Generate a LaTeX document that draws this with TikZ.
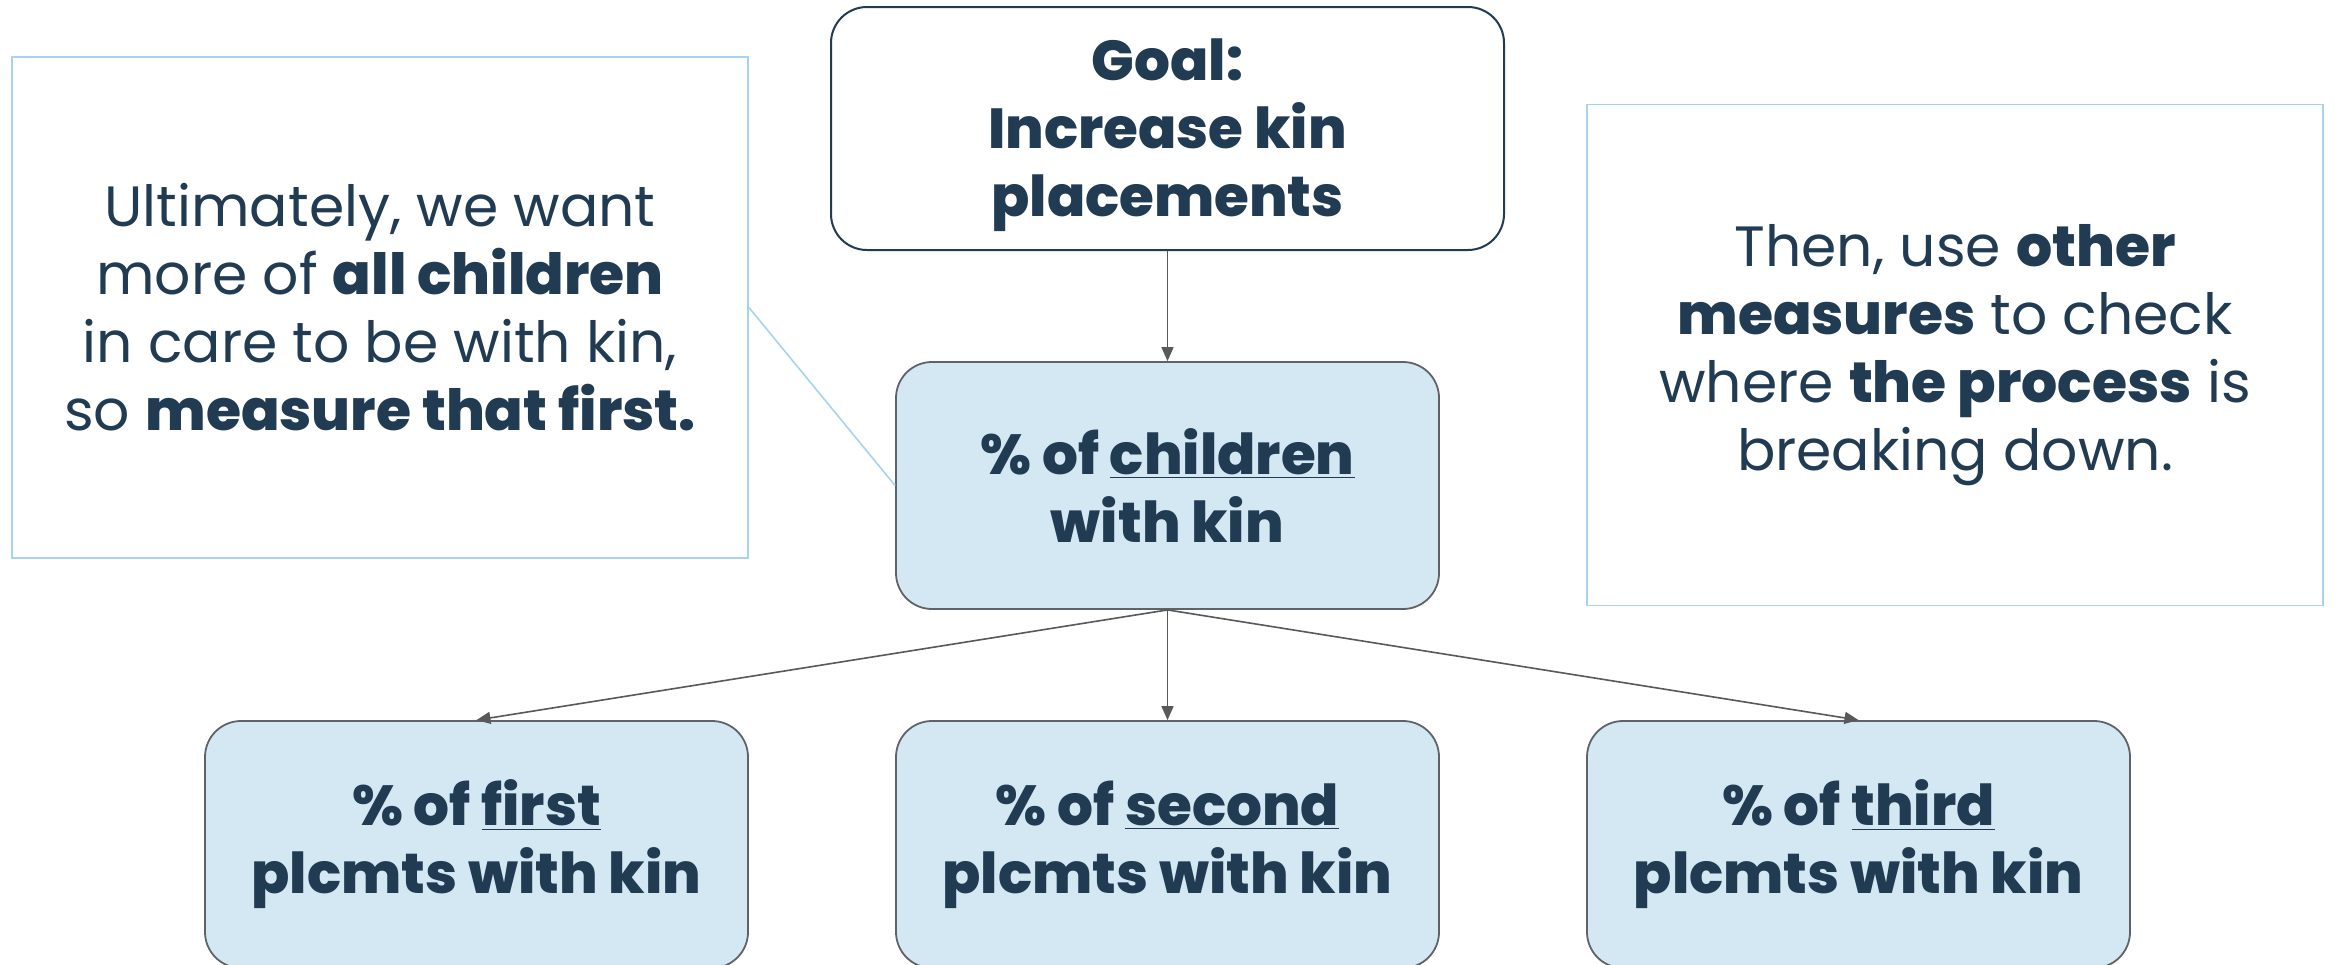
\documentclass[tikz,border=0pt]{standalone}
\usepackage{fontspec}
\setmainfont{Poppins}[BoldFont={* ExtraBold}]
\usetikzlibrary{arrows.meta}
\definecolor{navy}{HTML}{213B52}
\definecolor{boxfill}{HTML}{D4E8F3}
\definecolor{boxline}{HTML}{5F6368}
\definecolor{callline}{HTML}{A8D3EE}
\definecolor{arrowc}{HTML}{595959}
\begin{document}
\begin{tikzpicture}[x=0.5pt,y=-0.5pt,
  goalbox/.style={draw=navy,line width=1pt,rounded corners=18pt,fill=white,
    minimum width=336.5pt,minimum height=121.5pt,align=center,text=navy,
    font=\fontsize{28.2}{34}\selectfont\bfseries,inner sep=0pt},
  measbox/.style={draw=boxline,line width=0.9pt,rounded corners=18pt,fill=boxfill,
    minimum width=271.5pt,minimum height=123.5pt,align=center,text=navy,
    font=\fontsize{28.2}{34}\selectfont\bfseries,inner sep=0pt},
  callbox/.style={draw=callline,line width=0.9pt,fill=white,
    minimum width=368pt,minimum height=250.5pt,align=center,text=navy,
    font=\fontsize{28.4}{34}\selectfont,inner sep=0pt},
  conn/.style={draw=arrowc,line width=0.8pt,-{Triangle[length=7pt,width=6pt]}},
  callconn/.style={draw=callline,line width=0.8pt}]
\fill[white] (0,0) rectangle (2335,964);
\useasboundingbox (0,0) rectangle (2335,964);
\node[callbox] (left) at (380,307.5) {Ultimately, we want\\more of \textbf{all children}\\in care to be with kin,\\so \textbf{measure that first.}};
\node[callbox] (right) at (1955,355) {Then, use \textbf{other}\\\textbf{measures} to check\\where \textbf{the process} is\\breaking down.};
\node[goalbox] (goal) at (1167.5,128.5) {\rule{0pt}{6pt}\\[-12pt]Goal:\\Increase kin\\placements};
\node[measbox] (mid) at (1167.5,485.5) {\% of \underline{children}\\with kin};
\node[measbox] (first) at (476.5,844.5) {\% of \underline{first}\\plcmts with kin};
\node[measbox] (second) at (1167.5,844.5) {\% of \underline{second}\\plcmts with kin};
\node[measbox] (third) at (1858.5,844.5) {\% of \underline{third}\\plcmts with kin};
\draw[callconn] (left.east) -- (mid.west);
\draw[conn] (goal.south) -- (mid.north);
\draw[conn] (mid.south) -- (first.north);
\draw[conn] (mid.south) -- (second.north);
\draw[conn] (mid.south) -- (third.north);
\end{tikzpicture}
\end{document}
